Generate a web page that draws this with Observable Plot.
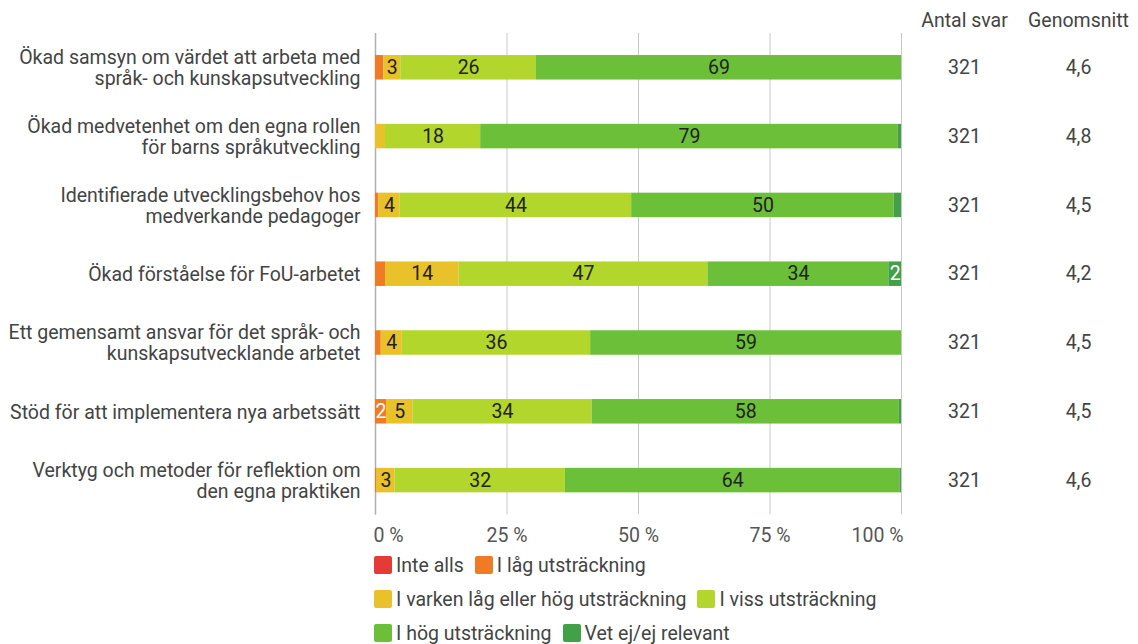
<!DOCTYPE html>
<html><head><meta charset="utf-8">
<script src="https://cdn.jsdelivr.net/npm/d3@7"></script>
<script src="https://cdn.jsdelivr.net/npm/@observablehq/plot@0.6"></script>
<style>
body{margin:0;background:#fff;font-family:Roboto,sans-serif;}
#chart{position:absolute;left:0;top:0;}
#legend{position:absolute;left:374px;top:548px;font-family:Roboto,sans-serif;font-size:19.5px;color:#444;}
.lrow{display:flex;height:34px;align-items:center;}
.item{display:flex;align-items:center;margin-right:11px;}
.sw{width:18px;height:18px;border-radius:2px;margin-right:4px;}
</style></head><body><div id="chart"></div><div id="legend"></div>
<script>
const questions = [
  "Ökad samsyn om värdet att arbeta med\nspråk- och kunskapsutveckling",
  "Ökad medvetenhet om den egna rollen\nför barns språkutveckling",
  "Identifierade utvecklingsbehov hos\nmedverkande pedagoger",
  "Ökad förståelse för FoU-arbetet",
  "Ett gemensamt ansvar för det språk- och\nkunskapsutvecklande arbetet",
  "Stöd för att implementera nya arbetssätt",
  "Verktyg och metoder för reflektion om\nden egna praktiken"
];
const series = ["Inte alls", "I låg utsträckning", "I varken låg eller hög utsträckning", "I viss utsträckning", "I hög utsträckning", "Vet ej/ej relevant"];
const colors = ["#e53a36", "#ef7b27", "#e9c12a", "#b3d62c", "#6cbf39", "#41a048"];
const inteAlls = [0, 0, 0, 0, 0, 0, 0];
const lag      = [1.6, 0, 0.6, 1.9, 1.1, 2.1, 0.3];
const varken   = [3.2, 1.9, 4.1, 14.0, 4.0, 5.0, 3.4];
const viss     = [25.8, 18.1, 44.0, 47.3, 35.8, 34.1, 32.4];
const hog      = [69.4, 79.4, 49.9, 34.4, 59.1, 58.4, 63.6];
const vetEj    = [0, 0.6, 1.4, 2.4, 0, 0.4, 0.3];
const antalSvar = [321, 321, 321, 321, 321, 321, 321];
const genomsnitt = ["4,6", "4,8", "4,5", "4,2", "4,5", "4,5", "4,6"];
const xTicks = [0, 25, 50, 75, 100];

const seriesValues = [inteAlls, lag, varken, viss, hog, vetEj];
const rows = [];
questions.forEach((q, i) => series.forEach((s, j) => rows.push({q, s, v: seriesValues[j][i]})));
const meta = questions.map((q, i) => ({q, n: antalSvar[i], m: genomsnitt[i]}));
const light = new Set(["I låg utsträckning", "Vet ej/ej relevant"]);
const stackOpts = (extra) => Plot.stackX({x: "v", y: "q", z: "s", order: series, ...extra});
const FS = 19.5;
const pct = d => d + " %";
const axisStyle = {tickFormat: pct, tickSize: 0, tickPadding: 13, fontSize: FS, fill: "#555", label: null};

const chart = Plot.plot({
  width: 1138, height: 548,
  marginLeft: 375, marginRight: 237, marginTop: 33, marginBottom: 33.6,
  style: {fontFamily: "Roboto, sans-serif", fontSize: FS + "px", color: "#444", background: "#fff"},
  x: {domain: [0, 100], label: null},
  y: {domain: questions, paddingInner: 0.644, paddingOuter: 0.3205, round: false, label: null},
  color: {domain: series, range: colors},
  marks: [
    Plot.ruleX(xTicks, {stroke: "#c8c8c8", strokeWidth: 1}),
    Plot.ruleX([0], {stroke: "#b0b0b0", strokeWidth: 1.5}),
    Plot.barX(rows, stackOpts({fill: "s"})),
    Plot.text(rows, stackOpts({text: d => (d.v >= 2 && !light.has(d.s)) ? String(Math.round(d.v)) : null, fill: "#222", fontSize: FS})),
    Plot.text(rows, stackOpts({text: d => (d.v >= 2 && light.has(d.s)) ? String(Math.round(d.v)) : null, fill: "white", fontSize: FS})),
    Plot.axisX({...axisStyle, ticks: [0], textAnchor: "start", dx: -2}),
    Plot.axisX({...axisStyle, ticks: [25, 50, 75]}),
    Plot.axisX({...axisStyle, ticks: [100], textAnchor: "end", dx: 2}),
    Plot.axisY({tickSize: 0, tickPadding: 15, fontSize: FS, lineHeight: 1.08, fill: "#444", label: null}),
    Plot.text(meta, {y: "q", text: "n", frameAnchor: "right", dx: 63, textAnchor: "middle", fontSize: FS, fill: "#444"}),
    Plot.text(meta, {y: "q", text: "m", frameAnchor: "right", dx: 177, textAnchor: "middle", fontSize: FS, fill: "#444"}),
    Plot.text(["Antal svar"], {text: d => d, frameAnchor: "top-right", dx: 63, dy: -13, lineAnchor: "middle", textAnchor: "middle", fontSize: FS, fill: "#444"}),
    Plot.text(["Genomsnitt"], {text: d => d, frameAnchor: "top-right", dx: 177, dy: -13, lineAnchor: "middle", textAnchor: "middle", fontSize: FS, fill: "#444"})
  ]
});
document.getElementById("chart").appendChild(chart);

const legendRows = [[0, 1], [2, 3], [4, 5]];
const legend = document.getElementById("legend");
legendRows.forEach(r => {
  const row = document.createElement("div");
  row.className = "lrow";
  r.forEach(j => {
    const it = document.createElement("div");
    it.className = "item";
    const sw = document.createElement("div");
    sw.className = "sw";
    sw.style.background = colors[j];
    const t = document.createElement("span");
    t.textContent = series[j];
    it.appendChild(sw); it.appendChild(t);
    row.appendChild(it);
  });
  legend.appendChild(row);
});
</script></body></html>
